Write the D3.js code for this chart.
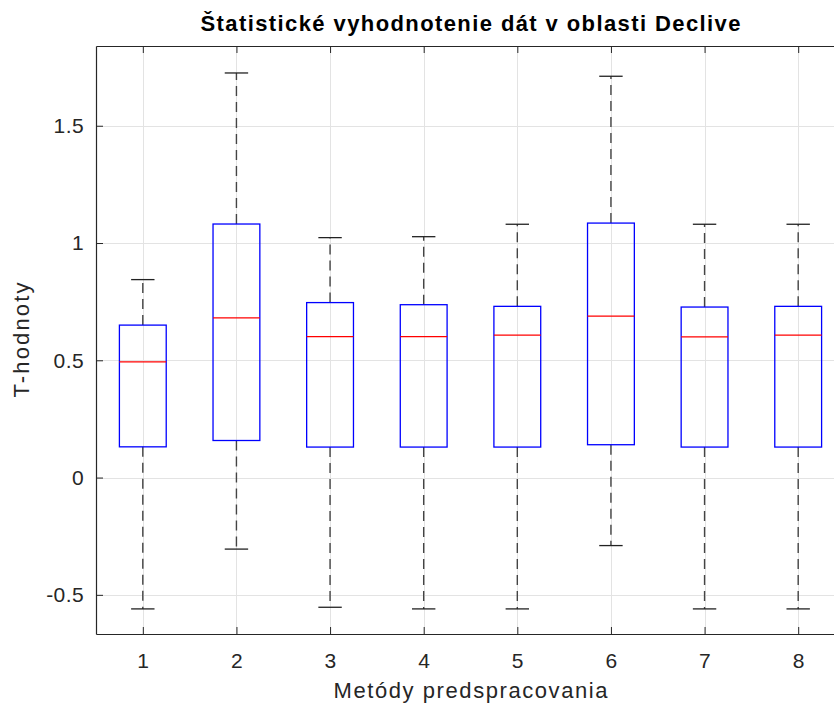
<!DOCTYPE html>
<html>
<head>
<meta charset="utf-8">
<script src="https://cdn.jsdelivr.net/npm/d3@7/dist/d3.min.js"></script>
<style>
  body { margin: 0; background: #fff; }
  svg { display: block; font-family: "Liberation Sans", Arial, sans-serif; }
</style>
</head>
<body>
<div id="chart"></div>
<script>
// data
var methods = [1, 2, 3, 4, 5, 6, 7, 8];
var whiskerLow  = [-0.56, -0.305, -0.553, -0.56, -0.56, -0.29, -0.56, -0.56];
var q1          = [0.131, 0.158, 0.13, 0.13, 0.13, 0.14, 0.13, 0.13];
var medians     = [0.493, 0.681, 0.601, 0.601, 0.607, 0.688, 0.600, 0.607];
var q3          = [0.650, 1.081, 0.746, 0.737, 0.730, 1.085, 0.727, 0.730];
var whiskerHigh = [0.844, 1.725, 1.023, 1.027, 1.08, 1.711, 1.08, 1.08];
var yTicks = [-0.5, 0, 0.5, 1, 1.5];

var titleText = "Štatistické vyhodnotenie dát v oblasti Declive";
var xLabel = "Metódy predspracovania";
var yLabel = "T-hodnoty";

var width = 834, height = 708;
var margin = {left: 96, top: 46, right: -11, bottom: 74};
var plotW = width - margin.left - margin.right,
    plotH = height - margin.top - margin.bottom;

var svg = d3.select('#chart').append('svg')
  .attr('width', width)
  .attr('height', height);

var x = d3.scaleLinear().domain([0.5, 8.5]).range([margin.left, margin.left + plotW]);
var y = d3.scaleLinear().domain([-0.667, 1.84]).range([margin.top + plotH, margin.top]);

var boxes = methods.map(function (m, i) {
  return {m: m, lo: whiskerLow[i], q1: q1[i], med: medians[i], q3: q3[i], hi: whiskerHigh[i]};
});

var textCol = '#262626';

// grid
var g = svg.append('g');
g.selectAll('.gx').data(methods).enter().append('line')
  .attr('x1', function (d) { return Math.round(x(d)) + 0.5; })
  .attr('x2', function (d) { return Math.round(x(d)) + 0.5; })
  .attr('y1', margin.top).attr('y2', margin.top + plotH)
  .attr('stroke', '#e3e3e3').attr('stroke-width', 1);
g.selectAll('.gy').data(yTicks).enter().append('line')
  .attr('y1', function (d) { return Math.round(y(d)) + 0.5; })
  .attr('y2', function (d) { return Math.round(y(d)) + 0.5; })
  .attr('x1', margin.left).attr('x2', margin.left + plotW)
  .attr('stroke', '#e3e3e3').attr('stroke-width', 1);

// boxes
var halfBox = 0.25, halfCap = 0.125;
var bx = svg.append('g').selectAll('g').data(boxes).enter().append('g');

bx.append('line') // upper whisker
  .attr('x1', function (d) { return x(d.m); }).attr('x2', function (d) { return x(d.m); })
  .attr('y1', function (d) { return y(d.q3); }).attr('y2', function (d) { return y(d.hi); })
  .attr('stroke', '#444').attr('stroke-dasharray', '10,6').attr('stroke-width', 1.4);
bx.append('line') // lower whisker
  .attr('x1', function (d) { return x(d.m); }).attr('x2', function (d) { return x(d.m); })
  .attr('y1', function (d) { return y(d.q1); }).attr('y2', function (d) { return y(d.lo); })
  .attr('stroke', '#444').attr('stroke-dasharray', '10,6').attr('stroke-width', 1.4);
['hi', 'lo'].forEach(function (k) {
  bx.append('line')
    .attr('x1', function (d) { return x(d.m - halfCap); })
    .attr('x2', function (d) { return x(d.m + halfCap); })
    .attr('y1', function (d) { return y(d[k]); })
    .attr('y2', function (d) { return y(d[k]); })
    .attr('stroke', '#222').attr('stroke-width', 1.3);
});
bx.append('rect')
  .attr('x', function (d) { return x(d.m - halfBox); })
  .attr('width', function (d) { return x(d.m + halfBox) - x(d.m - halfBox); })
  .attr('y', function (d) { return y(d.q3); })
  .attr('height', function (d) { return y(d.q1) - y(d.q3); })
  .attr('fill', 'none').attr('stroke', '#0000ff').attr('stroke-width', 1.3);
bx.append('line')
  .attr('x1', function (d) { return x(d.m - halfBox); })
  .attr('x2', function (d) { return x(d.m + halfBox); })
  .attr('y1', function (d) { return y(d.med); })
  .attr('y2', function (d) { return y(d.med); })
  .attr('stroke', '#ff0000').attr('stroke-width', 1.3);

// axes (MATLAB style: ticks inside, box on)
var xAxis = d3.axisBottom(x).tickValues(methods).tickSizeInner(-7).tickSizeOuter(0).tickPadding(19);
var yAxis = d3.axisLeft(y).tickValues(yTicks).tickSizeInner(-7).tickSizeOuter(0).tickPadding(12)
  .tickFormat(function (d) { return String(d); });

var ax = svg.append('g').attr('transform', 'translate(0,' + (margin.top + plotH) + ')').call(xAxis);
var ay = svg.append('g').attr('transform', 'translate(' + margin.left + ',0)').call(yAxis);
var axTop = svg.append('g').attr('transform', 'translate(0,' + margin.top + ')')
  .call(d3.axisTop(x).tickValues(methods).tickSizeInner(-7).tickSizeOuter(0).tickFormat(''));

[ax, ay, axTop].forEach(function (a) {
  a.select('.domain').attr('stroke', textCol).attr('stroke-width', 1.2);
  a.selectAll('.tick line').attr('stroke', textCol);
  a.selectAll('text').attr('fill', textCol).style('font-size', '21px')
    .style('letter-spacing', '0.4px')
    .style('font-family', '"Liberation Sans", Arial, sans-serif');
});

// titles
svg.append('text')
  .attr('x', x(4.5)).attr('y', 31)
  .attr('text-anchor', 'middle')
  .style('font-size', '22px').style('font-weight', 'bold')
  .attr('textLength', 540).attr('lengthAdjust', 'spacing')
  .attr('fill', '#000')
  .text(titleText);

svg.append('text')
  .attr('x', x(4.5)).attr('y', 698)
  .attr('text-anchor', 'middle')
  .style('font-size', '22px')
  .attr('textLength', 274).attr('lengthAdjust', 'spacing')
  .attr('fill', textCol)
  .text(xLabel);

svg.append('text')
  .attr('transform', 'translate(29,' + (margin.top + plotH / 2) + ') rotate(-90)')
  .attr('text-anchor', 'middle')
  .style('font-size', '22px')
  .attr('textLength', 115).attr('lengthAdjust', 'spacing')
  .attr('fill', textCol)
  .text(yLabel);
</script>
</body>
</html>
